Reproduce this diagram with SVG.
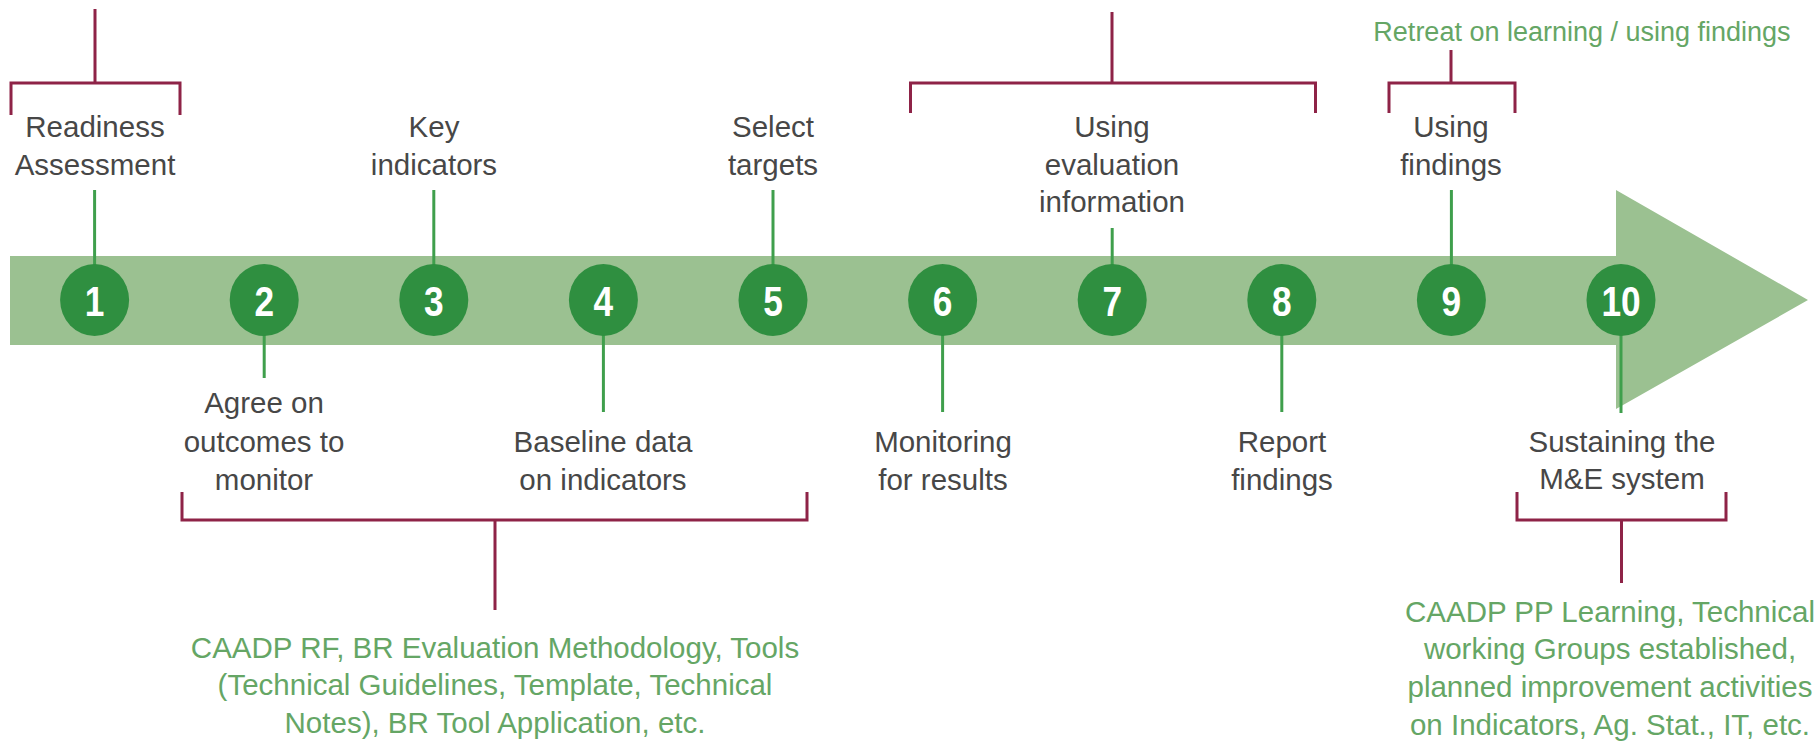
<svg xmlns="http://www.w3.org/2000/svg" width="1818" height="742" viewBox="0 0 1818 742">
<style>
.lbl{font-family:"Liberation Sans",Arial,Helvetica,sans-serif;font-size:29.5px;fill:#474747;text-anchor:middle}
.note{font-family:"Liberation Sans",Arial,Helvetica,sans-serif;font-size:29.5px;fill:#65a665;text-anchor:middle}
.num{font-family:"Liberation Sans",Arial,Helvetica,sans-serif;font-size:43px;font-weight:bold;fill:#ffffff;text-anchor:middle}
.dot{fill:#2f8f40}
.stem{stroke:#3f9f4c;stroke-width:3;fill:none}
.brk{stroke:#8e2347;stroke-width:3;fill:none}
</style>
<rect width="1818" height="742" fill="#ffffff"/>
<g id="arrow">
<path d="M10 256 H1616 V190 L1808 300 L1616 409 V345 H10 Z" fill="#9bc191"/>
</g>
<g id="connectors">
<line class="stem" x1="94.6" y1="190" x2="94.6" y2="280"/>
<line class="stem" x1="264.2" y1="320" x2="264.2" y2="378"/>
<line class="stem" x1="433.8" y1="190" x2="433.8" y2="280"/>
<line class="stem" x1="603.4" y1="320" x2="603.4" y2="412"/>
<line class="stem" x1="773" y1="190" x2="773" y2="280"/>
<line class="stem" x1="942.6" y1="320" x2="942.6" y2="412"/>
<line class="stem" x1="1112.2" y1="228" x2="1112.2" y2="280"/>
<line class="stem" x1="1281.8" y1="320" x2="1281.8" y2="412"/>
<line class="stem" x1="1451.4" y1="190" x2="1451.4" y2="280"/>
<line class="stem" x1="1621" y1="320" x2="1621" y2="413"/>
<path class="brk" d="M11 115 V83 H180 V115 M95 83 V9"/>
<path class="brk" d="M910.5 113 V83 H1315.5 V113 M1112 83 V12"/>
<path class="brk" d="M1389 113 V83 H1515 V113 M1451 83 V50"/>
<path class="brk" d="M182 492 V520 H807 V492 M495 520 V610"/>
<path class="brk" d="M1517 492 V520 H1726 V492 M1621.5 520 V583"/>
</g>
<g id="node-1">
<ellipse class="dot" cx="94.6" cy="300" rx="34.5" ry="36"/>
<text class="num" transform="translate(94.6,315.5) scale(0.82,1)">1</text>
<text class="lbl" x="95" y="137">Readiness</text>
<text class="lbl" x="95" y="175">Assessment</text>
</g>
<g id="node-2">
<ellipse class="dot" cx="264.2" cy="300" rx="34.5" ry="36"/>
<text class="num" transform="translate(264.2,315.5) scale(0.82,1)">2</text>
<text class="lbl" x="264" y="413">Agree on</text>
<text class="lbl" x="264" y="452">outcomes to</text>
<text class="lbl" x="264" y="490">monitor</text>
</g>
<g id="node-3">
<ellipse class="dot" cx="433.8" cy="300" rx="34.5" ry="36"/>
<text class="num" transform="translate(433.8,315.5) scale(0.82,1)">3</text>
<text class="lbl" x="434" y="137">Key</text>
<text class="lbl" x="434" y="175">indicators</text>
</g>
<g id="node-4">
<ellipse class="dot" cx="603.4" cy="300" rx="34.5" ry="36"/>
<text class="num" transform="translate(603.4,315.5) scale(0.82,1)">4</text>
<text class="lbl" x="603" y="452">Baseline data</text>
<text class="lbl" x="603" y="490">on indicators</text>
</g>
<g id="node-5">
<ellipse class="dot" cx="773" cy="300" rx="34.5" ry="36"/>
<text class="num" transform="translate(773,315.5) scale(0.82,1)">5</text>
<text class="lbl" x="773" y="137">Select</text>
<text class="lbl" x="773" y="175">targets</text>
</g>
<g id="node-6">
<ellipse class="dot" cx="942.6" cy="300" rx="34.5" ry="36"/>
<text class="num" transform="translate(942.6,315.5) scale(0.82,1)">6</text>
<text class="lbl" x="943" y="452">Monitoring</text>
<text class="lbl" x="943" y="490">for results</text>
</g>
<g id="node-7">
<ellipse class="dot" cx="1112.2" cy="300" rx="34.5" ry="36"/>
<text class="num" transform="translate(1112.2,315.5) scale(0.82,1)">7</text>
<text class="lbl" x="1112" y="137">Using</text>
<text class="lbl" x="1112" y="175">evaluation</text>
<text class="lbl" x="1112" y="212">information</text>
</g>
<g id="node-8">
<ellipse class="dot" cx="1281.8" cy="300" rx="34.5" ry="36"/>
<text class="num" transform="translate(1281.8,315.5) scale(0.82,1)">8</text>
<text class="lbl" x="1282" y="452">Report</text>
<text class="lbl" x="1282" y="490">findings</text>
</g>
<g id="node-9">
<ellipse class="dot" cx="1451.4" cy="300" rx="34.5" ry="36"/>
<text class="num" transform="translate(1451.4,315.5) scale(0.82,1)">9</text>
<text class="lbl" x="1451" y="137">Using</text>
<text class="lbl" x="1451" y="175">findings</text>
</g>
<g id="node-10">
<ellipse class="dot" cx="1621" cy="300" rx="34.5" ry="36"/>
<text class="num" transform="translate(1621,315.5) scale(0.82,1)">10</text>
<text class="lbl" x="1622" y="452">Sustaining the</text>
<text class="lbl" x="1622" y="489">M&amp;E system</text>
</g>
<g id="note-retreat">
<text class="note" x="1582" y="41" style="font-size:27px">Retreat on learning / using findings</text>
</g>
<g id="note-tools">
<text class="note" x="495" y="658">CAADP RF, BR Evaluation Methodology, Tools</text>
<text class="note" x="495" y="695">(Technical Guidelines, Template, Technical</text>
<text class="note" x="495" y="733">Notes), BR Tool Application, etc.</text>
</g>
<g id="note-sustain">
<text class="note" x="1610" y="622">CAADP PP Learning, Technical</text>
<text class="note" x="1610" y="659">working Groups established,</text>
<text class="note" x="1610" y="697">planned improvement activities</text>
<text class="note" x="1610" y="735">on Indicators, Ag. Stat., IT, etc.</text>
</g>
</svg>
